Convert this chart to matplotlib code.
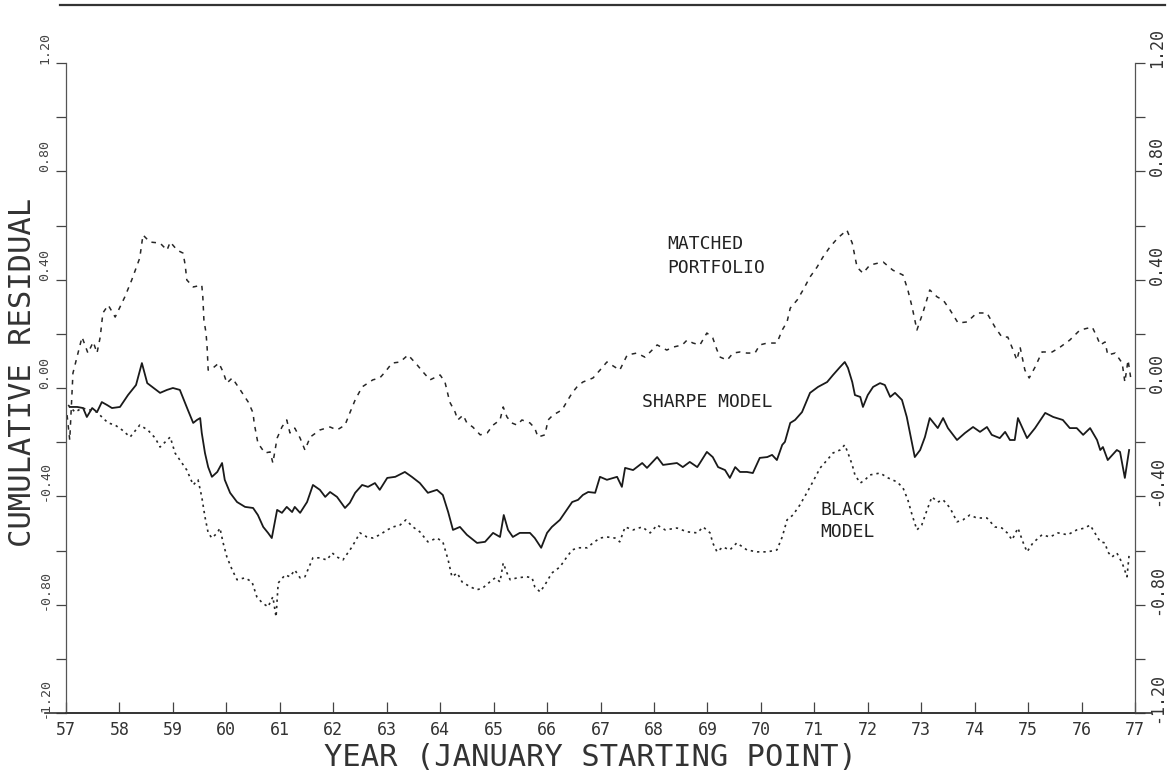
import matplotlib
matplotlib.use("Agg")
import matplotlib.pyplot as plt
import matplotlib.transforms as mtransforms
from matplotlib.lines import Line2D

# ---- series: (year, cumulative residual) ----
matched_year = [57.02, 57.07, 57.13, 57.30, 57.41, 57.51, 57.58, 57.64, 57.69, 57.79, 57.92, 58.10,
                58.23, 58.38, 58.44, 58.57, 58.76, 58.89, 58.95, 59.08, 59.19, 59.23, 59.26, 59.38,
                59.54, 59.56, 59.58, 59.62, 59.64, 59.66, 59.75, 59.86, 59.94, 60.01, 60.11, 60.26,
                60.41, 60.50, 60.52, 60.59, 60.72, 60.82, 60.87, 60.95, 61.04, 61.13, 61.19, 61.28,
                61.38, 61.47, 61.57, 61.75, 61.94, 62.07, 62.22, 62.31, 62.41, 62.54, 62.74, 62.87,
                62.97, 63.10, 63.25, 63.40, 63.57, 63.68, 63.81, 64.00, 64.09, 64.18, 64.28, 64.33,
                64.43, 64.50, 64.61, 64.75, 64.88, 64.99, 65.12, 65.18, 65.25, 65.34, 65.44, 65.53,
                65.68, 65.77, 65.83, 65.96, 66.02, 66.11, 66.28, 66.39, 66.47, 66.56, 66.67, 66.86,
                66.99, 67.12, 67.36, 67.50, 67.68, 67.83, 67.93, 68.06, 68.24, 68.36, 68.53, 68.62,
                68.73, 68.86, 68.99, 69.10, 69.18, 69.24, 69.37, 69.48, 69.61, 69.74, 69.89, 69.98,
                70.12, 70.30, 70.40, 70.49, 70.55, 70.68, 70.79, 70.92, 71.05, 71.16, 71.29, 71.44,
                71.61, 71.71, 71.80, 71.91, 72.04, 72.19, 72.29, 72.47, 72.66, 72.75, 72.83, 72.92,
                73.03, 73.16, 73.30, 73.41, 73.54, 73.69, 73.86, 74.04, 74.23, 74.38, 74.51, 74.62,
                74.72, 74.79, 74.85, 74.94, 75.02, 75.13, 75.26, 75.45, 75.60, 75.78, 75.97, 76.20,
                76.29, 76.35, 76.44, 76.49, 76.63, 76.76, 76.81, 76.87, 76.92]
matched_val = [-0.100, -0.192, 0.055, 0.188, 0.129, 0.170, 0.129, 0.188, 0.277, 0.306, 0.262, 0.336,
               0.399, 0.480, 0.565, 0.539, 0.535, 0.509, 0.539, 0.509, 0.498, 0.454, 0.399, 0.373,
               0.380, 0.336, 0.251, 0.203, 0.151, 0.066, 0.074, 0.092, 0.059, 0.018, 0.037, -0.007,
               -0.052, -0.092, -0.129, -0.203, -0.240, -0.236, -0.277, -0.185, -0.144, -0.118, -0.166, -0.148,
               -0.185, -0.229, -0.181, -0.155, -0.144, -0.155, -0.137, -0.092, -0.044, 0.004, 0.030, 0.037,
               0.059, 0.092, 0.096, 0.122, 0.085, 0.059, 0.030, 0.048, 0.022, -0.052, -0.089, -0.118,
               -0.100, -0.129, -0.144, -0.173, -0.166, -0.137, -0.118, -0.070, -0.107, -0.129, -0.137, -0.118,
               -0.129, -0.148, -0.181, -0.173, -0.118, -0.100, -0.081, -0.044, -0.018, 0.004, 0.022, 0.037,
               0.066, 0.096, 0.066, 0.122, 0.129, 0.114, 0.133, 0.159, 0.140, 0.151, 0.159, 0.177,
               0.166, 0.159, 0.203, 0.185, 0.140, 0.114, 0.103, 0.129, 0.133, 0.129, 0.129, 0.159,
               0.166, 0.166, 0.214, 0.244, 0.295, 0.325, 0.362, 0.410, 0.446, 0.483, 0.520, 0.554,
               0.583, 0.535, 0.446, 0.424, 0.454, 0.461, 0.465, 0.435, 0.417, 0.362, 0.299, 0.214,
               0.277, 0.362, 0.336, 0.325, 0.288, 0.240, 0.244, 0.277, 0.277, 0.225, 0.188, 0.188,
               0.140, 0.103, 0.151, 0.066, 0.037, 0.077, 0.133, 0.133, 0.151, 0.177, 0.214, 0.225,
               0.188, 0.159, 0.170, 0.122, 0.129, 0.092, 0.022, 0.103, 0.037]

sharpe_year = [57.07, 57.21, 57.32, 57.39, 57.49, 57.58, 57.67, 57.77, 57.86, 58.01, 58.16, 58.31,
               58.42, 58.52, 58.76, 58.89, 59.00, 59.13, 59.19, 59.28, 59.38, 59.45, 59.51, 59.54,
               59.60, 59.66, 59.73, 59.83, 59.92, 59.97, 60.07, 60.20, 60.35, 60.50, 60.59, 60.69,
               60.78, 60.85, 60.95, 61.04, 61.13, 61.23, 61.28, 61.38, 61.51, 61.62, 61.75, 61.85,
               61.94, 62.07, 62.22, 62.31, 62.41, 62.54, 62.65, 62.78, 62.87, 63.01, 63.16, 63.34,
               63.47, 63.62, 63.77, 63.94, 64.05, 64.15, 64.24, 64.37, 64.50, 64.69, 64.84, 64.99,
               65.12, 65.19, 65.27, 65.36, 65.49, 65.68, 65.77, 65.89, 66.00, 66.09, 66.24, 66.37,
               66.47, 66.58, 66.67, 66.77, 66.90, 66.99, 67.12, 67.31, 67.40, 67.46, 67.61, 67.78,
               67.87, 68.06, 68.17, 68.43, 68.54, 68.67, 68.81, 68.86, 68.99, 69.10, 69.20, 69.33,
               69.42, 69.52, 69.61, 69.74, 69.85, 69.98, 70.12, 70.21, 70.30, 70.40, 70.45, 70.55,
               70.64, 70.77, 70.92, 71.07, 71.24, 71.35, 71.48, 71.57, 71.63, 71.71, 71.76, 71.86,
               71.91, 72.00, 72.10, 72.23, 72.32, 72.42, 72.51, 72.64, 72.73, 72.79, 72.88, 72.98,
               73.07, 73.16, 73.31, 73.41, 73.50, 73.67, 73.82, 73.97, 74.10, 74.23, 74.32, 74.47,
               74.57, 74.66, 74.75, 74.81, 74.98, 75.13, 75.32, 75.47, 75.65, 75.78, 75.91, 76.03,
               76.16, 76.29, 76.35, 76.40, 76.49, 76.66, 76.72, 76.81, 76.89]
sharpe_val = [-0.070, -0.070, -0.074, -0.107, -0.074, -0.089, -0.052, -0.063, -0.074, -0.070, -0.026, 0.011,
              0.092, 0.018, -0.018, -0.007, 0.000, -0.007, -0.037, -0.081, -0.129, -0.118, -0.111, -0.166,
              -0.240, -0.292, -0.328, -0.310, -0.277, -0.339, -0.387, -0.421, -0.439, -0.443, -0.469, -0.513,
              -0.535, -0.554, -0.450, -0.461, -0.439, -0.458, -0.439, -0.461, -0.421, -0.358, -0.376, -0.402,
              -0.384, -0.402, -0.443, -0.424, -0.387, -0.358, -0.365, -0.351, -0.376, -0.332, -0.328, -0.310,
              -0.328, -0.351, -0.387, -0.376, -0.395, -0.458, -0.524, -0.513, -0.542, -0.572, -0.568, -0.535,
              -0.550, -0.469, -0.524, -0.550, -0.535, -0.535, -0.554, -0.590, -0.535, -0.513, -0.487, -0.450,
              -0.421, -0.413, -0.395, -0.384, -0.387, -0.328, -0.339, -0.328, -0.365, -0.295, -0.303, -0.277,
              -0.295, -0.255, -0.284, -0.277, -0.292, -0.273, -0.292, -0.277, -0.236, -0.255, -0.292, -0.303,
              -0.332, -0.292, -0.310, -0.310, -0.314, -0.258, -0.255, -0.247, -0.266, -0.210, -0.199, -0.129,
              -0.118, -0.089, -0.018, 0.004, 0.022, 0.048, 0.077, 0.096, 0.074, 0.022, -0.026, -0.033,
              -0.070, -0.026, 0.004, 0.018, 0.011, -0.033, -0.018, -0.044, -0.107, -0.166, -0.255, -0.229,
              -0.181, -0.111, -0.148, -0.111, -0.148, -0.192, -0.166, -0.144, -0.162, -0.144, -0.173, -0.185,
              -0.162, -0.192, -0.192, -0.111, -0.185, -0.148, -0.092, -0.107, -0.118, -0.148, -0.148, -0.173,
              -0.148, -0.192, -0.229, -0.218, -0.266, -0.229, -0.236, -0.332, -0.229]

black_year = [57.04, 57.17, 57.30, 57.45, 57.58, 57.69, 57.79, 57.92, 58.05, 58.20, 58.38, 58.53,
              58.67, 58.76, 58.95, 59.04, 59.13, 59.26, 59.38, 59.47, 59.54, 59.60, 59.66, 59.73,
              59.83, 59.88, 59.94, 60.01, 60.11, 60.20, 60.35, 60.48, 60.57, 60.67, 60.78, 60.87,
              60.93, 60.97, 61.10, 61.19, 61.28, 61.38, 61.47, 61.62, 61.75, 61.88, 61.98, 62.07,
              62.18, 62.35, 62.50, 62.63, 62.74, 62.87, 63.01, 63.12, 63.25, 63.36, 63.49, 63.62,
              63.77, 63.94, 64.05, 64.15, 64.22, 64.32, 64.41, 64.56, 64.69, 64.80, 64.93, 65.03,
              65.12, 65.18, 65.25, 65.31, 65.44, 65.62, 65.72, 65.77, 65.87, 65.96, 66.09, 66.24,
              66.37, 66.47, 66.58, 66.75, 66.86, 66.99, 67.12, 67.27, 67.36, 67.46, 67.61, 67.78,
              67.93, 68.06, 68.21, 68.43, 68.62, 68.81, 68.92, 69.05, 69.10, 69.18, 69.29, 69.42,
              69.55, 69.74, 69.93, 70.12, 70.30, 70.40, 70.49, 70.60, 70.73, 70.86, 70.96, 71.11,
              71.24, 71.35, 71.48, 71.57, 71.63, 71.71, 71.76, 71.86, 71.95, 72.04, 72.23, 72.38,
              72.55, 72.66, 72.75, 72.83, 72.92, 73.01, 73.11, 73.20, 73.31, 73.41, 73.54, 73.67,
              73.78, 73.91, 74.04, 74.23, 74.38, 74.51, 74.61, 74.70, 74.81, 74.91, 74.98, 75.09,
              75.26, 75.41, 75.56, 75.74, 75.91, 76.06, 76.16, 76.25, 76.35, 76.44, 76.49, 76.57,
              76.66, 76.76, 76.85, 76.89]
black_val = [-0.063, -0.089, -0.074, -0.081, -0.089, -0.111, -0.129, -0.137, -0.155, -0.181, -0.137, -0.155,
             -0.185, -0.218, -0.181, -0.240, -0.266, -0.303, -0.358, -0.339, -0.402, -0.476, -0.535, -0.554,
             -0.535, -0.517, -0.572, -0.624, -0.672, -0.708, -0.701, -0.716, -0.771, -0.793, -0.808, -0.771,
             -0.845, -0.720, -0.690, -0.697, -0.672, -0.701, -0.697, -0.627, -0.627, -0.635, -0.609, -0.624,
             -0.635, -0.587, -0.535, -0.550, -0.554, -0.542, -0.524, -0.513, -0.506, -0.487, -0.513, -0.531,
             -0.568, -0.554, -0.568, -0.635, -0.697, -0.683, -0.716, -0.734, -0.745, -0.738, -0.716, -0.701,
             -0.716, -0.646, -0.683, -0.708, -0.701, -0.697, -0.701, -0.734, -0.753, -0.727, -0.683, -0.661,
             -0.624, -0.598, -0.590, -0.590, -0.572, -0.554, -0.550, -0.554, -0.568, -0.513, -0.524, -0.513,
             -0.535, -0.506, -0.524, -0.517, -0.531, -0.535, -0.513, -0.535, -0.572, -0.605, -0.587, -0.598,
             -0.572, -0.598, -0.605, -0.605, -0.598, -0.550, -0.487, -0.469, -0.432, -0.387, -0.351, -0.295,
             -0.266, -0.240, -0.229, -0.210, -0.240, -0.284, -0.321, -0.351, -0.339, -0.321, -0.314, -0.332,
             -0.347, -0.369, -0.413, -0.469, -0.524, -0.506, -0.450, -0.402, -0.421, -0.413, -0.443, -0.494,
             -0.487, -0.469, -0.480, -0.480, -0.513, -0.517, -0.535, -0.561, -0.517, -0.572, -0.605, -0.572,
             -0.542, -0.550, -0.535, -0.542, -0.524, -0.517, -0.506, -0.535, -0.568, -0.572, -0.605, -0.624,
             -0.609, -0.646, -0.697, -0.616]

year_ticks = list(range(57, 78))
year_labels = [str(y) for y in year_ticks]
resid_ticks = [1.20, 0.80, 0.40, 0.00, -0.40, -0.80, -1.20]
resid_labels = ["1.20", "0.80", "0.40", "0.00", "-0.40", "-0.80", "-1.20"]
minor_ticks = [-1.2 + 0.2 * i for i in range(13)]

INK = "#262626"
MONO = "DejaVu Sans Mono"

fig = plt.figure(figsize=(11.71, 7.73), dpi=100)
fig.patch.set_facecolor("white")
ax = fig.add_axes([66 / 1171, 60 / 773, (1135 - 66) / 1171, 650 / 773])
ax.set_xlim(57, 77)
ax.set_ylim(-1.2, 1.2)

ax.plot(matched_year, matched_val, color=INK, lw=1.1, linestyle=(0, (3.0, 3.6)))
ax.plot(sharpe_year, sharpe_val, color="#1a1a1a", lw=1.3, linestyle="-")
ax.plot(black_year, black_val, color=INK, lw=1.2, linestyle=(0, (1.4, 2.4)))

# frame
for side in ("top",):
    ax.spines[side].set_visible(False)
ax.spines["left"].set_color("#555555")
ax.spines["left"].set_linewidth(0.9)
ax.spines["right"].set_color("#555555")
ax.spines["right"].set_linewidth(0.9)
ax.spines["bottom"].set_color("#333333")
ax.spines["bottom"].set_linewidth(1.2)
ax.add_line(Line2D([-0.02, 1.015], [0, 0], transform=ax.transAxes, color="#333333",
                   lw=1.2, clip_on=False))

# x axis ticks and labels
ax.set_xticks(year_ticks)
ax.set_xticklabels(year_labels, fontfamily=MONO, fontsize=12, color="#333333")
ax.tick_params(axis="x", direction="in", length=8, width=0.9, color="#444444", pad=6)

# y axis ticks on both sides, labels drawn as rotated text
ax.set_yticks(minor_ticks)
ax.set_yticklabels([])
ax.tick_params(axis="y", which="both", direction="out", length=7, width=0.9,
               color="#444444", left=True, right=True)

up = mtransforms.ScaledTranslation(0, 15 / 100, fig.dpi_scale_trans)
left_tr = mtransforms.blended_transform_factory(ax.transAxes, ax.transData) + up
for v, s in zip(resid_ticks, resid_labels):
    ax.text(-21 / 1069, v, s, transform=left_tr, rotation=90, ha="center", va="center",
            fontfamily=MONO, fontsize=9.5, color="#444444", clip_on=False)
    ax.text(1 + 22 / 1069, v, s, transform=left_tr, rotation=90, ha="center", va="center",
            fontfamily=MONO, fontsize=12, color="#333333", clip_on=False)

# curve labels
lab = dict(fontfamily=MONO, fontsize=13, color="#222222", ha="left", va="center")
ax.text(68.24, 0.531, "MATCHED", **lab)
ax.text(68.24, 0.443, "PORTFOLIO", **lab)
ax.text(67.78, -0.052, "SHARPE MODEL", **lab)
ax.text(71.11, -0.450, "BLACK", **lab)
ax.text(71.11, -0.531, "MODEL", **lab)

# axis titles
fig.text(590 / 1171, 1 - 758 / 773, "YEAR (JANUARY STARTING POINT)", ha="center", va="center",
         fontfamily=MONO, fontsize=22, color="#333333")
fig.text(23 / 1171, 1 - 372 / 773, "CUMULATIVE RESIDUAL", ha="center", va="center",
         rotation=90, fontfamily=MONO, fontsize=22, color="#333333")

# rule along the top of the sheet
fig.add_artist(Line2D([60 / 1171, 1165 / 1171], [1 - 5 / 773, 1 - 5 / 773],
                      transform=fig.transFigure, color="#333333", lw=1.6))

fig.savefig("out.png", dpi=100, facecolor="white")
